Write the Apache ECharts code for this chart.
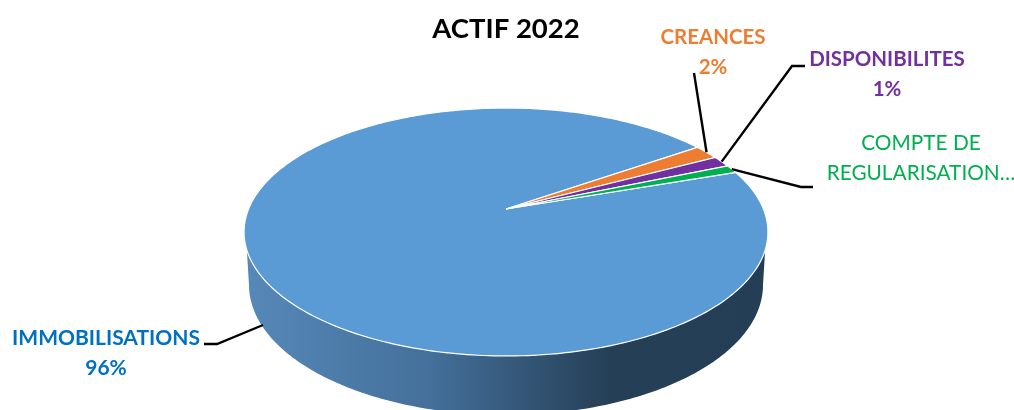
<!DOCTYPE html>
<html>
<head>
<meta charset="utf-8">
<title>ACTIF 2022</title>
<script src="https://cdn.jsdelivr.net/npm/echarts@6/dist/echarts.min.js"></script>
<style>
    html, body { margin: 0; padding: 0; background: #fff; }
    #chart { width: 1014px; height: 410px; }
</style>
</head>
<body>
<div id="chart"></div>
<script>
const categories = ["IMMOBILISATIONS", "CREANCES", "DISPONIBILITES", "COMPTE DE REGULARISATION"];
const values = [95.6, 1.9, 1.45, 1.05];
const labelLines = [
    ["IMMOBILISATIONS", "96%"],
    ["CREANCES", "2%"],
    ["DISPONIBILITES", "1%"],
    ["COMPTE DE", "REGULARISATION…"]
];

const sliceColors = ["#5B9BD5", "#ED7D31", "#7030A0", "#00B050"];
const labelColors = ["#0070C0", "#ED7D31", "#7030A0", "#00B050"];
const labelWeights = ["bold", "bold", "bold", "normal"];
const labelSizes = [21, 20.5, 20.5, 20.8];
const labelPos = [[106, 353], [713, 52], [887, 74], [921, 158]];
// leader lines, from the label side to the pie (the pie end is worked out below)
const leaderPoints = [
    [[204, 344], [217, 344], [263, 325]],
    [[694, 73]],
    [[805, 66], [792, 66]],
    [[813, 187], [801, 187]]
];

// the top of the pie is a tilted disc, drawn with a simple perspective
const centerX = 506, centerY = 209;
const scaleX = 257.4, scaleY = 119.7, tilt = -0.1855;
const startAngle = -18.9;
const total = values.reduce((a, b) => a + b, 0);

function rim(deg) {
    const r = deg * Math.PI / 180;
    const w = 1 + tilt * Math.sin(r);
    return [centerX + scaleX * Math.cos(r) / w, centerY + scaleY * Math.sin(r) / w];
}

function lowerRim(deg) {
    const r = deg * Math.PI / 180;
    return [506 + 257 * Math.cos(r), 285 + 130 * Math.sin(r)];
}

function sliceRange(i) {
    let before = 0;
    for (let k = 0; k < i; k++) before += values[k];
    const a0 = startAngle + before / total * 360;
    return [a0, a0 + values[i] / total * 360];
}

function renderWall() {
    const pts = [];
    for (let a = 18.8; a <= 161.2; a += 1) pts.push(rim(a));
    pts.push(rim(161.2));
    for (let a = 180; a >= 0; a -= 1) pts.push(lowerRim(a));
    return {
        type: "polygon",
        shape: { points: pts },
        style: {
            fill: new echarts.graphic.LinearGradient(0, 0, 1, 0, [
                { offset: 0, color: "#5688B8" },
                { offset: 0.35, color: "#44709B" },
                { offset: 0.7, color: "#253F56" },
                { offset: 1, color: "#233E55" }
            ])
        }
    };
}

function renderSlice(params, api) {
    const i = api.value(0);
    const [a0, a1] = sliceRange(i);
    const pts = [[centerX, centerY]];
    for (let a = a0; a < a1; a += 1) pts.push(rim(a));
    pts.push(rim(a1));
    return {
        type: "polygon",
        shape: { points: pts },
        style: { fill: sliceColors[i], stroke: "#fff", lineWidth: 1.2, lineJoin: "miter" }
    };
}

function renderLabel(params, api) {
    const i = api.value(0);
    const [a0, a1] = sliceRange(i);
    let pts = leaderPoints[i];
    if (i > 0) pts = pts.concat([rim((a0 + a1) / 2)]);
    return {
        type: "group",
        children: [
            {
                type: "polyline",
                shape: { points: pts },
                style: { stroke: "#000", lineWidth: 2.4, fill: null }
            },
            {
                type: "text",
                style: {
                    x: labelPos[i][0],
                    y: labelPos[i][1],
                    text: labelLines[i].join("\n"),
                    fill: labelColors[i],
                    font: labelWeights[i] + " " + labelSizes[i] + "px Lato",
                    lineHeight: 30,
                    align: "center",
                    verticalAlign: "middle"
                }
            }
        ]
    };
}

const chart = echarts.init(document.getElementById("chart"));
const rows = categories.map((c, i) => [i, values[i], c]);

chart.setOption({
    animation: false,
    backgroundColor: "#fff",
    title: {
        text: "ACTIF 2022",
        left: 506,
        top: 10,
        textAlign: "center",
        textStyle: { fontFamily: "Lato", fontWeight: "bold", fontSize: 27.5, color: "#000" }
    },
    series: [
        { type: "custom", coordinateSystem: "none", silent: true, z: 1, data: [[0]], renderItem: renderWall },
        { type: "custom", coordinateSystem: "none", silent: true, z: 2, data: rows, renderItem: renderSlice },
        { type: "custom", coordinateSystem: "none", silent: true, z: 3, data: rows, renderItem: renderLabel }
    ]
});
chart.setOption({ title: { left: 501 } });
</script>
</body>
</html>
